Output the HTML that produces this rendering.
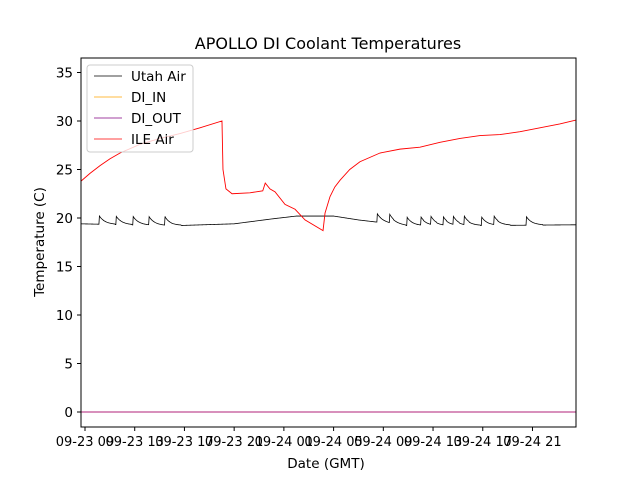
<!DOCTYPE html>
<html><head><meta charset="utf-8"><style>
body{margin:0;background:#fff;font-family:"Liberation Sans","DejaVu Sans",sans-serif}
svg text{font-family:"DejaVu Sans","Liberation Sans",sans-serif}
</style></head><body>
<svg id="chart" width="640" height="480" xmlns="http://www.w3.org/2000/svg">
<rect width="640" height="480" fill="#fff"/>
<text x="328" y="49" font-size="16" text-anchor="middle">APOLLO DI Coolant Temperatures</text>
<g id="plot"></g>
<rect x="81" y="58" width="495" height="369" fill="none" stroke="#000" stroke-width="1"/>
<g id="axes"></g>
<text x="326" y="468" font-size="13.5" text-anchor="middle">Date (GMT)</text>
<text transform="translate(44,242) rotate(-90)" font-size="13.5" text-anchor="middle">Temperature (C)</text>
<g>
<rect x="87" y="65" width="106" height="87" rx="3" fill="#fff" fill-opacity="0.8" stroke="#ccc"/>
<line x1="94" y1="76" x2="122" y2="76" stroke="#000" stroke-width="0.8"/>
<text x="131" y="81" font-size="13.5">Utah Air</text>
<line x1="94" y1="97" x2="122" y2="97" stroke="#ffa500" stroke-width="0.8"/>
<text x="131" y="102" font-size="13.5">DI_IN</text>
<line x1="94" y1="118" x2="122" y2="118" stroke="#800080" stroke-width="0.8"/>
<text x="131" y="123" font-size="13.5">DI_OUT</text>
<line x1="94" y1="139" x2="122" y2="139" stroke="#ff0000" stroke-width="0.8"/>
<text x="131" y="144" font-size="13.5">ILE Air</text>
</g>
</svg>
<script>
// hours since 09-23 09:00
const xTickHours = [0,4,8,12,16,20,24,28,32,36];
const xTickLabels = ["09-23 09","09-23 13","09-23 17","09-23 21","09-24 01","09-24 05","09-24 09","09-24 13","09-24 17","09-24 21"];
const yTicks = [0,5,10,15,20,25,30,35];
const ileHours = [-0.32,0.4,1.21,2.0,2.82,4.42,6.03,7.64,9.25,11.02,11.1,11.34,11.83,13.27,14.3,14.5,14.88,15.29,16.09,16.9,17.7,19.15,19.31,19.71,20.1,20.52,21.3,22.12,23.73,25.34,26.95,28.56,30.17,31.78,33.39,35.0,36.6,38.2,39.5];
const ileTemps = [23.8,24.6,25.4,26.1,26.7,27.6,28.2,28.7,29.3,30.0,25.0,23.0,22.5,22.6,22.8,23.6,23.0,22.7,21.4,20.9,19.8,18.7,20.5,22.2,23.2,23.9,25.0,25.8,26.7,27.1,27.3,27.8,28.2,28.5,28.6,28.9,29.3,29.7,30.1];
const utahHours = [-0.32,7,12,15,17,20,22,24,26,30,39.5];
const utahTemps = [19.4,19.2,19.4,19.9,20.2,20.2,19.8,19.5,19.2,19.2,19.3];
const utahSpikeHours = [1.13,2.49,3.86,5.15,6.44,23.5,24.5,25.9,27.0,27.8,28.8,29.6,30.5,31.9,32.9,35.5];
const diInTemps = [0,0];
const diOutTemps = [0,0];
const diHours = [-0.32,39.5];

const X = h => 85 + 12.43*h;
const Y = v => 412 - 9.7*v;
const NS = "http://www.w3.org/2000/svg";
const plot = document.getElementById('plot');
const axes = document.getElementById('axes');
function interp(hs, vs, h){
  for(let i=0;i<hs.length-1;i++){ if(h<=hs[i+1]){ const t=(h-hs[i])/(hs[i+1]-hs[i]); return vs[i]+t*(vs[i+1]-vs[i]); } }
  return vs[vs.length-1];
}
function line(pts, color, name, w){
  const p=document.createElementNS(NS,'polyline');
  p.setAttribute('points', pts.map(q=>X(q[0]).toFixed(2)+','+Y(q[1]).toFixed(2)).join(' '));
  p.setAttribute('fill','none'); p.setAttribute('stroke',color); p.setAttribute('stroke-width',w||0.8);
  
  
  plot.appendChild(p);
}
const up=[];
for(let h=-0.32; h<=39.5; h+=0.04){
  let v = interp(utahHours, utahTemps, h);
  for(const s of utahSpikeHours){ const d=h-s; if(d>=0 && d<1.3) v += 0.9*Math.exp(-d*2.2); }
  up.push([h,v]);
}
line(diHours.map((h,i)=>[h,diInTemps[i]]),'#ffa500','di-in-line',1);
line(diHours.map((h,i)=>[h,diOutTemps[i]]),'#b0207a','di-out-line',1);
line(up,'#000','utah-air-line',0.8);
line(ileHours.map((h,i)=>[h,ileTemps[i]]),'#ff0000','ile-air-line',0.9);
xTickHours.forEach((h,i)=>{
  const l=document.createElementNS(NS,'line');
  l.setAttribute('x1',X(h)); l.setAttribute('x2',X(h)); l.setAttribute('y1',427); l.setAttribute('y2',431);
  l.setAttribute('stroke','#000');
  
  
  axes.appendChild(l);
  const t=document.createElementNS(NS,'text');
  t.setAttribute('x',X(h)); t.setAttribute('y',446); t.setAttribute('font-size','13'); t.setAttribute('text-anchor','middle');
  t.textContent=xTickLabels[i];
  
  
  axes.appendChild(t);
});
yTicks.forEach(v=>{
  const l=document.createElementNS(NS,'line');
  l.setAttribute('x1',77); l.setAttribute('x2',81); l.setAttribute('y1',Y(v)); l.setAttribute('y2',Y(v));
  l.setAttribute('stroke','#000');
  
  
  axes.appendChild(l);
  const t=document.createElementNS(NS,'text');
  t.setAttribute('x',73); t.setAttribute('y',Y(v)+5); t.setAttribute('font-size','13.5'); t.setAttribute('text-anchor','end');
  t.textContent=v;
  
  
  axes.appendChild(t);
});
</script>
</body></html>
